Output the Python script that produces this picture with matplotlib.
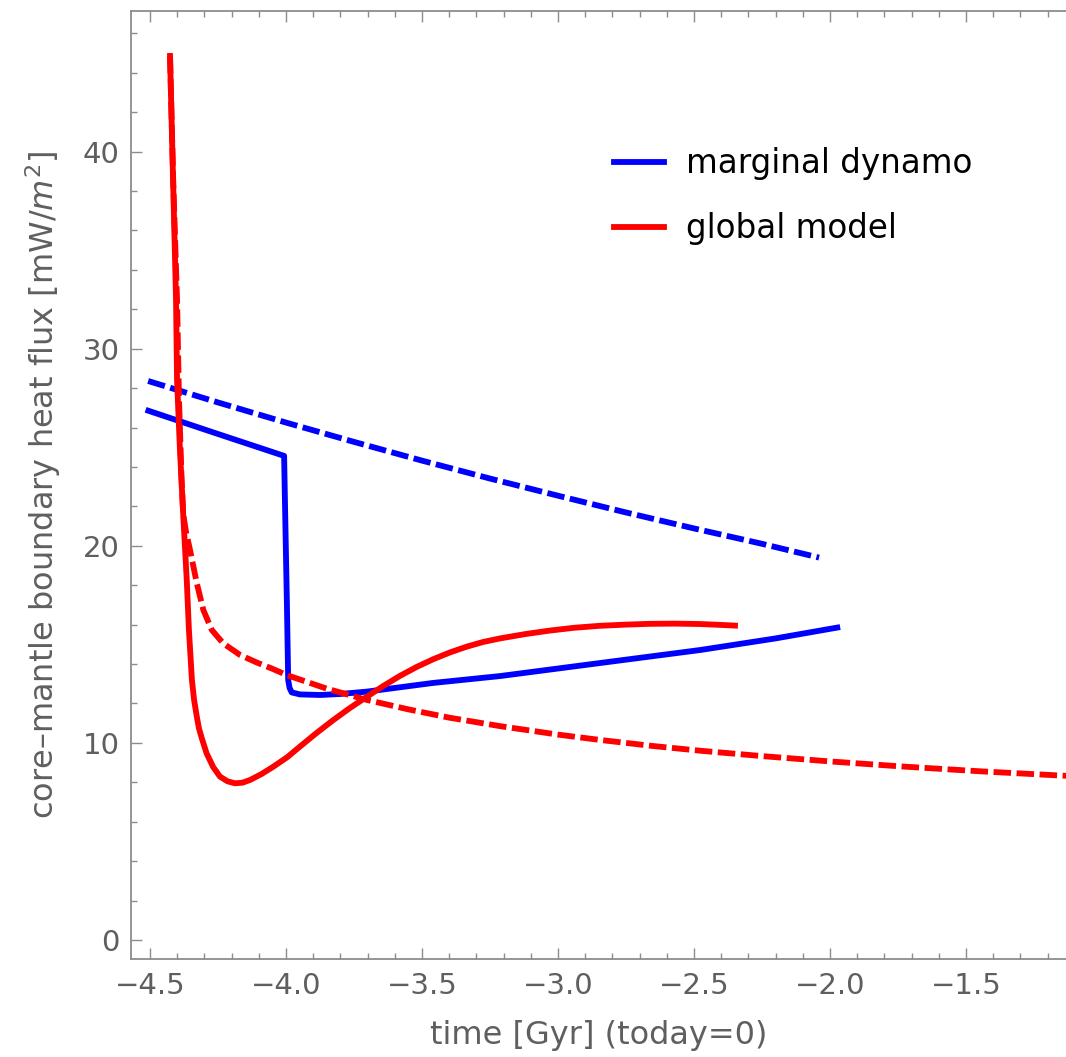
import matplotlib
matplotlib.use("Agg")
import matplotlib.pyplot as plt
from matplotlib.ticker import MultipleLocator
from matplotlib.lines import Line2D

# ---- data ----
blue_dashed_t = [-4.507, -4.25, -4.0, -3.75, -3.5, -3.25, -3.0, -2.75, -2.5, -2.25, -2.04]
blue_dashed_q = [28.36, 27.27, 26.25, 25.27, 24.32, 23.41, 22.54, 21.69, 20.88, 20.10, 19.40]

blue_solid_t = [-4.506, -4.25, -4.007, -4.004, -3.997, -3.992, -3.987, -3.979, -3.949,
                -3.875, -3.801, -3.703, -3.46, -3.213, -2.846, -2.478, -2.2, -1.973]
blue_solid_q = [26.85, 25.67, 24.56, 22.3, 17.25, 13.19, 12.79, 12.56, 12.46,
                12.43, 12.48, 12.60, 13.04, 13.39, 14.05, 14.71, 15.30, 15.85]

red_solid_t = [-4.4265, -4.4044, -4.4007, -4.390, -4.377, -4.365, -4.357, -4.346, -4.338,
               -4.328, -4.320, -4.31, -4.292, -4.268, -4.243, -4.215, -4.1875, -4.16,
               -4.132, -4.09, -4.047, -3.995, -3.949, -3.888, -3.826, -3.765, -3.703,
               -3.642, -3.581, -3.52, -3.458, -3.397, -3.336, -3.275, -3.213, -3.12,
               -3.029, -2.94, -2.846, -2.75, -2.662, -2.57, -2.478, -2.41, -2.349]
red_solid_q = [44.85, 32.47, 28.41, 24.86, 21.31, 18.26, 15.73, 13.19, 12.18,
               11.33, 10.73, 10.25, 9.47, 8.78, 8.29, 8.05, 7.95, 7.98,
               8.12, 8.42, 8.79, 9.28, 9.81, 10.50, 11.16, 11.77, 12.34,
               12.89, 13.40, 13.85, 14.25, 14.59, 14.88, 15.12, 15.30, 15.52,
               15.70, 15.84, 15.94, 16.00, 16.04, 16.05, 16.03, 15.99, 15.95]

red_dashed_t = [-4.4265, -4.415, -4.4007, -4.3934, -4.384, -4.378, -4.3676, -4.353, -4.328,
                -4.304, -4.273, -4.231, -4.169, -4.108, -4.05, -3.997, -3.85, -3.703,
                -3.55, -3.40, -3.213, -3.0, -2.846, -2.65, -2.475, -2.25, -2.0, -1.743,
                -1.45, -1.162, -1.1]
red_dashed_q = [44.85, 38.6, 32.47, 27.4, 23.34, 21.6, 20.7, 19.79, 18.10,
                16.74, 15.73, 15.05, 14.46, 14.08, 13.76, 13.44, 12.75, 12.18,
                11.70, 11.28, 10.85, 10.42, 10.15, 9.84, 9.60, 9.33, 9.06, 8.81,
                8.56, 8.35, 8.31]

legend_labels = ["marginal dynamo", "global model"]
x_ticks = [-4.5, -4.0, -3.5, -3.0, -2.5, -2.0, -1.5]
y_ticks = [0, 10, 20, 30, 40]

# ---- figure ----
plt.rcParams['font.family'] = ['DejaVu Sans']
plt.rcParams['mathtext.fontset'] = 'dejavusans'

W, H = 1066, 1057
fig = plt.figure(figsize=(W / 100, H / 100), dpi=100)
ax = fig.add_axes([131 / W, 1 - 959 / H, (W - 131) / W, (959 - 11) / H])

BLUE = (0, 0, 1)
RED = (1, 0, 0)
LW = 4.2
dash = (3.0, 0.95)

ax.plot(blue_dashed_t, blue_dashed_q, color=BLUE, lw=LW, dashes=dash, dash_capstyle='butt')
ax.plot(blue_solid_t, blue_solid_q, color=BLUE, lw=LW, solid_joinstyle='round')
ax.plot(red_solid_t, red_solid_q, color=RED, lw=LW, solid_joinstyle='round')
ax.plot(red_dashed_t, red_dashed_q, color=RED, lw=LW, dashes=dash, dash_capstyle='butt')

ax.set_xlim(-4.57, -1.132)
ax.set_ylim(-0.964, 47.13)

grey_spine = '#8c8c8c'
grey_text = '#5f5f5f'
for side in ['left', 'bottom', 'top']:
    ax.spines[side].set_color(grey_spine)
    ax.spines[side].set_linewidth(1.3)
ax.spines['right'].set_visible(False)

ax.set_xticks(x_ticks)
ax.set_xticklabels([f"{v:.1f}".replace('-', '\u2212') for v in x_ticks])
ax.set_yticks(y_ticks)
ax.xaxis.set_minor_locator(MultipleLocator(0.1))
ax.yaxis.set_minor_locator(MultipleLocator(2))
ax.tick_params(which='both', direction='in', top=True, right=False,
               color=grey_spine, width=1.0, labelcolor=grey_text, labelsize=21)
ax.tick_params(which='major', length=8)
ax.tick_params(which='minor', length=4.5)
ax.tick_params(axis='x', which='major', pad=9)
ax.tick_params(axis='y', which='major', pad=8)

ax.set_xlabel('time [Gyr] (today=0)', fontsize=23, color=grey_text, labelpad=15)
ax.set_ylabel('core\u2013mantle boundary heat flux [mW/$m^2$]', fontsize=23,
              color=grey_text, labelpad=14)

handles = [Line2D([], [], color=BLUE, lw=LW), Line2D([], [], color=RED, lw=LW)]
ax.legend(handles, legend_labels, loc='upper left',
          bbox_to_anchor=(614 / W, 1 - 147 / H), bbox_transform=fig.transFigure,
          frameon=False, fontsize=23.5, handlelength=1.53, handletextpad=0.68,
          labelspacing=0.98, borderpad=0, borderaxespad=0)

fig.savefig('out.png', dpi=100)
